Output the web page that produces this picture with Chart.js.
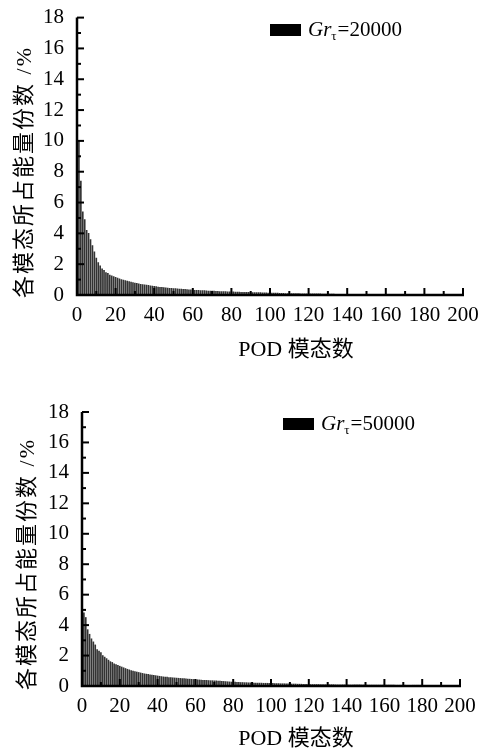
<!DOCTYPE html>
<html>
<head>
<meta charset="utf-8">
<script src="https://cdn.jsdelivr.net/npm/chart.js@4/dist/chart.umd.min.js"></script>
<style>
  html, body { margin: 0; padding: 0; background: #fff; }
  .wrap { position: relative; width: 480px; height: 374px; }
</style>
</head>
<body>
<div class="wrap"><canvas id="top-chart" width="480" height="374"></canvas></div>
<div class="wrap"><canvas id="bottom-chart" width="480" height="374"></canvas></div>
<script>
// POD mode numbers 1..200
const modes = Array.from({ length: 200 }, (_, i) => i + 1);

// energy share of each mode (%), Gr_tau = 20000
const energy20000 = [
  10.0, 7.4, 5.4, 4.9, 4.2, 4.0, 3.6, 3.2, 2.8, 2.4,
  2.1, 1.9, 1.7, 1.6, 1.45, 1.4, 1.3, 1.25, 1.2, 1.15,
  1.1, 1.05, 1.0, 0.97, 0.93, 0.9, 0.87, 0.84, 0.81, 0.78,
  0.75, 0.72, 0.7, 0.68, 0.66, 0.64, 0.62, 0.6, 0.58, 0.56,
  0.54, 0.52, 0.5, 0.49, 0.48, 0.46, 0.45, 0.44, 0.43, 0.42,
  0.41, 0.4, 0.39, 0.38, 0.37, 0.36, 0.35, 0.34, 0.33, 0.32,
  0.31, 0.3, 0.3, 0.29, 0.28, 0.28, 0.27, 0.26, 0.26, 0.25,
  0.25, 0.24, 0.24, 0.23, 0.23, 0.22, 0.22, 0.21, 0.21, 0.2,
  0.2, 0.19, 0.19, 0.19, 0.18, 0.18, 0.17, 0.17, 0.17, 0.16,
  0.16, 0.16, 0.15, 0.15, 0.15, 0.14, 0.14, 0.14, 0.13, 0.13,
  0.13, 0.12, 0.12, 0.12, 0.11, 0.11, 0.11, 0.1, 0.1, 0.1,
  0.1, 0.09, 0.09, 0.09, 0.09, 0.08, 0.08, 0.08, 0.08, 0.08,
  0.07, 0.07, 0.07, 0.07, 0.07, 0.07, 0.06, 0.06, 0.06, 0.06,
  0.06, 0.06, 0.06, 0.05, 0.05, 0.05, 0.05, 0.05, 0.05, 0.05,
  0.05, 0.05, 0.04, 0.04, 0.04, 0.04, 0.04, 0.04, 0.04, 0.04,
  0.04, 0.04, 0.04, 0.04, 0.03, 0.03, 0.03, 0.03, 0.03, 0.03,
  0.03, 0.03, 0.03, 0.03, 0.03, 0.03, 0.03, 0.03, 0.03, 0.03,
  0.03, 0.03, 0.03, 0.03, 0.03, 0.02, 0.02, 0.02, 0.02, 0.02,
  0.02, 0.02, 0.02, 0.02, 0.02, 0.02, 0.02, 0.02, 0.02, 0.02,
  0.02, 0.02, 0.02, 0.02, 0.02, 0.02, 0.02, 0.02, 0.02, 0.02
];

// energy share of each mode (%), Gr_tau = 50000
const energy50000 = [
  4.8, 4.5, 3.7, 3.4, 3.1, 2.9, 2.7, 2.4, 2.3, 2.2,
  2.0, 1.9, 1.8, 1.7, 1.6, 1.55, 1.45, 1.4, 1.35, 1.3,
  1.25, 1.2, 1.15, 1.1, 1.06, 1.02, 0.98, 0.95, 0.92, 0.89,
  0.86, 0.83, 0.8, 0.78, 0.76, 0.74, 0.72, 0.7, 0.68, 0.66,
  0.64, 0.62, 0.6, 0.59, 0.58, 0.56, 0.55, 0.54, 0.53, 0.52,
  0.51, 0.5, 0.49, 0.48, 0.47, 0.46, 0.45, 0.44, 0.43, 0.42,
  0.41, 0.4, 0.39, 0.38, 0.37, 0.37, 0.36, 0.35, 0.35, 0.34,
  0.34, 0.33, 0.32, 0.31, 0.3, 0.29, 0.28, 0.27, 0.26, 0.25,
  0.25, 0.24, 0.24, 0.23, 0.23, 0.22, 0.22, 0.21, 0.21, 0.2,
  0.2, 0.2, 0.19, 0.19, 0.19, 0.18, 0.18, 0.18, 0.17, 0.17,
  0.17, 0.16, 0.16, 0.16, 0.15, 0.15, 0.15, 0.14, 0.14, 0.14,
  0.13, 0.13, 0.13, 0.12, 0.12, 0.12, 0.11, 0.11, 0.11, 0.11,
  0.1, 0.1, 0.1, 0.1, 0.1, 0.09, 0.09, 0.09, 0.09, 0.09,
  0.09, 0.09, 0.09, 0.08, 0.08, 0.08, 0.08, 0.08, 0.08, 0.08,
  0.07, 0.07, 0.07, 0.07, 0.07, 0.07, 0.07, 0.07, 0.07, 0.07,
  0.06, 0.06, 0.06, 0.06, 0.06, 0.06, 0.06, 0.06, 0.06, 0.06,
  0.06, 0.06, 0.06, 0.06, 0.06, 0.05, 0.05, 0.05, 0.05, 0.05,
  0.05, 0.05, 0.05, 0.05, 0.05, 0.05, 0.05, 0.05, 0.05, 0.05,
  0.04, 0.04, 0.04, 0.04, 0.04, 0.04, 0.04, 0.04, 0.04, 0.04,
  0.04, 0.04, 0.04, 0.04, 0.04, 0.04, 0.04, 0.04, 0.04, 0.04
];

const xTicks = [0, 200, 20, 10];   // min, max, labelled step, minor step
const yTicks = [0, 18, 2, 1];
const xTitle = 'POD 模态数';
const yTitle = '各模态所占能量份数 /%';

const serif = "'Liberation Serif', 'Times New Roman', 'Noto Sans CJK SC', serif";

// axis lines, inward ticks, axis titles and the legend
const frame = {
  id: 'frame',
  afterDraw(chart, args, opts) {
    const ctx = chart.ctx;
    const xs = chart.scales.x, ys = chart.scales.y;
    const x0 = xs.getPixelForValue(xTicks[0]);
    const y0 = ys.getPixelForValue(yTicks[0]);
    ctx.save();
    ctx.strokeStyle = '#000';
    ctx.lineWidth = 2.5;
    ctx.beginPath();
    ctx.moveTo(x0, ys.getPixelForValue(yTicks[1]));
    ctx.lineTo(x0, y0);
    ctx.lineTo(xs.getPixelForValue(xTicks[1]) + 1, y0);
    ctx.stroke();

    ctx.lineWidth = 2;
    for (let v = xTicks[0] + xTicks[3]; v <= xTicks[1]; v += xTicks[3]) {
      const px = xs.getPixelForValue(v);
      const len = v % xTicks[2] === 0 ? 7 : 4;
      ctx.beginPath();
      ctx.moveTo(px, y0);
      ctx.lineTo(px, y0 - len);
      ctx.stroke();
    }
    for (let v = yTicks[0] + yTicks[3]; v <= yTicks[1]; v += yTicks[3]) {
      const py = ys.getPixelForValue(v);
      const len = v % yTicks[2] === 0 ? 7 : 4;
      ctx.beginPath();
      ctx.moveTo(x0, py);
      ctx.lineTo(x0 + len, py);
      ctx.stroke();
    }

    // axis titles
    ctx.fillStyle = '#000';
    ctx.font = '22px ' + serif;
    ctx.letterSpacing = '0px';
    ctx.textAlign = 'center';
    ctx.textBaseline = 'alphabetic';
    ctx.fillText(xTitle, opts.xTitleX, opts.xTitleY);

    ctx.save();
    ctx.translate(opts.yTitleX, opts.yTitleY);
    ctx.rotate(-Math.PI / 2);
    ctx.font = '22px ' + serif;
    ctx.letterSpacing = '2px';
    ctx.textBaseline = 'middle';
    ctx.fillText(yTitle, 0, 0);
    ctx.restore();

    // legend
    ctx.letterSpacing = '0px';
    ctx.fillRect(opts.legendX, opts.legendY, 31, 12);
    ctx.textAlign = 'left';
    let tx = opts.legendX + 38;
    const base = opts.legendY + 12;
    ctx.font = 'italic 21px ' + serif;
    ctx.fillText('Gr', tx, base);
    tx += ctx.measureText('Gr').width;
    ctx.font = '13px ' + serif;
    ctx.fillText('τ', tx, base + 4);
    tx += ctx.measureText('τ').width + 1;
    ctx.font = '21px ' + serif;
    ctx.fillText('=' + chart.data.datasets[0].label, tx, base);
    ctx.restore();
  }
};

function makeChart(id, values, name, box) {
  const ctx = document.getElementById(id).getContext('2d');
  return new Chart(ctx, {
    type: 'bar',
    data: {
      datasets: [{
        label: name,
        data: modes.map((m, i) => ({ x: m, y: values[i] })),
        backgroundColor: '#333',
        barThickness: 1,
        borderWidth: 0
      }]
    },
    options: {
      responsive: false,
      animation: false,
      layout: { padding: { left: 0, right: box.right, top: box.top, bottom: 0 } },
      plugins: {
        legend: { display: false },
        tooltip: { enabled: false },
        frame: box
      },
      scales: {
        x: {
          type: 'linear',
          min: xTicks[0],
          max: xTicks[1],
          offset: false,
          grid: { display: false },
          border: { display: false },
          ticks: {
            stepSize: xTicks[2],
            maxRotation: 0,
            autoSkip: false,
            padding: 0,
            color: '#000',
            font: { family: serif, size: 21 }
          },
          afterFit: s => { s.height = box.xHeight; }
        },
        y: {
          min: yTicks[0],
          max: yTicks[1],
          grid: { display: false },
          border: { display: false },
          ticks: {
            stepSize: yTicks[2],
            padding: 5,
            color: '#000',
            font: { family: serif, size: 21 }
          },
          afterFit: s => { s.width = box.yWidth; }
        }
      }
    },
    plugins: [frame]
  });
}

makeChart('top-chart', energy20000, '20000', {
  right: 17, top: 15, xHeight: 79, yWidth: 77,
  xTitleX: 296, xTitleY: 356, yTitleX: 25, yTitleY: 172,
  legendX: 270, legendY: 24
});

makeChart('bottom-chart', energy50000, '50000', {
  right: 20, top: 38, xHeight: 62, yWidth: 82,
  xTitleX: 296, xTitleY: 371, yTitleX: 28, yTitleY: 190,
  legendX: 283, legendY: 44
});
</script>
</body>
</html>
